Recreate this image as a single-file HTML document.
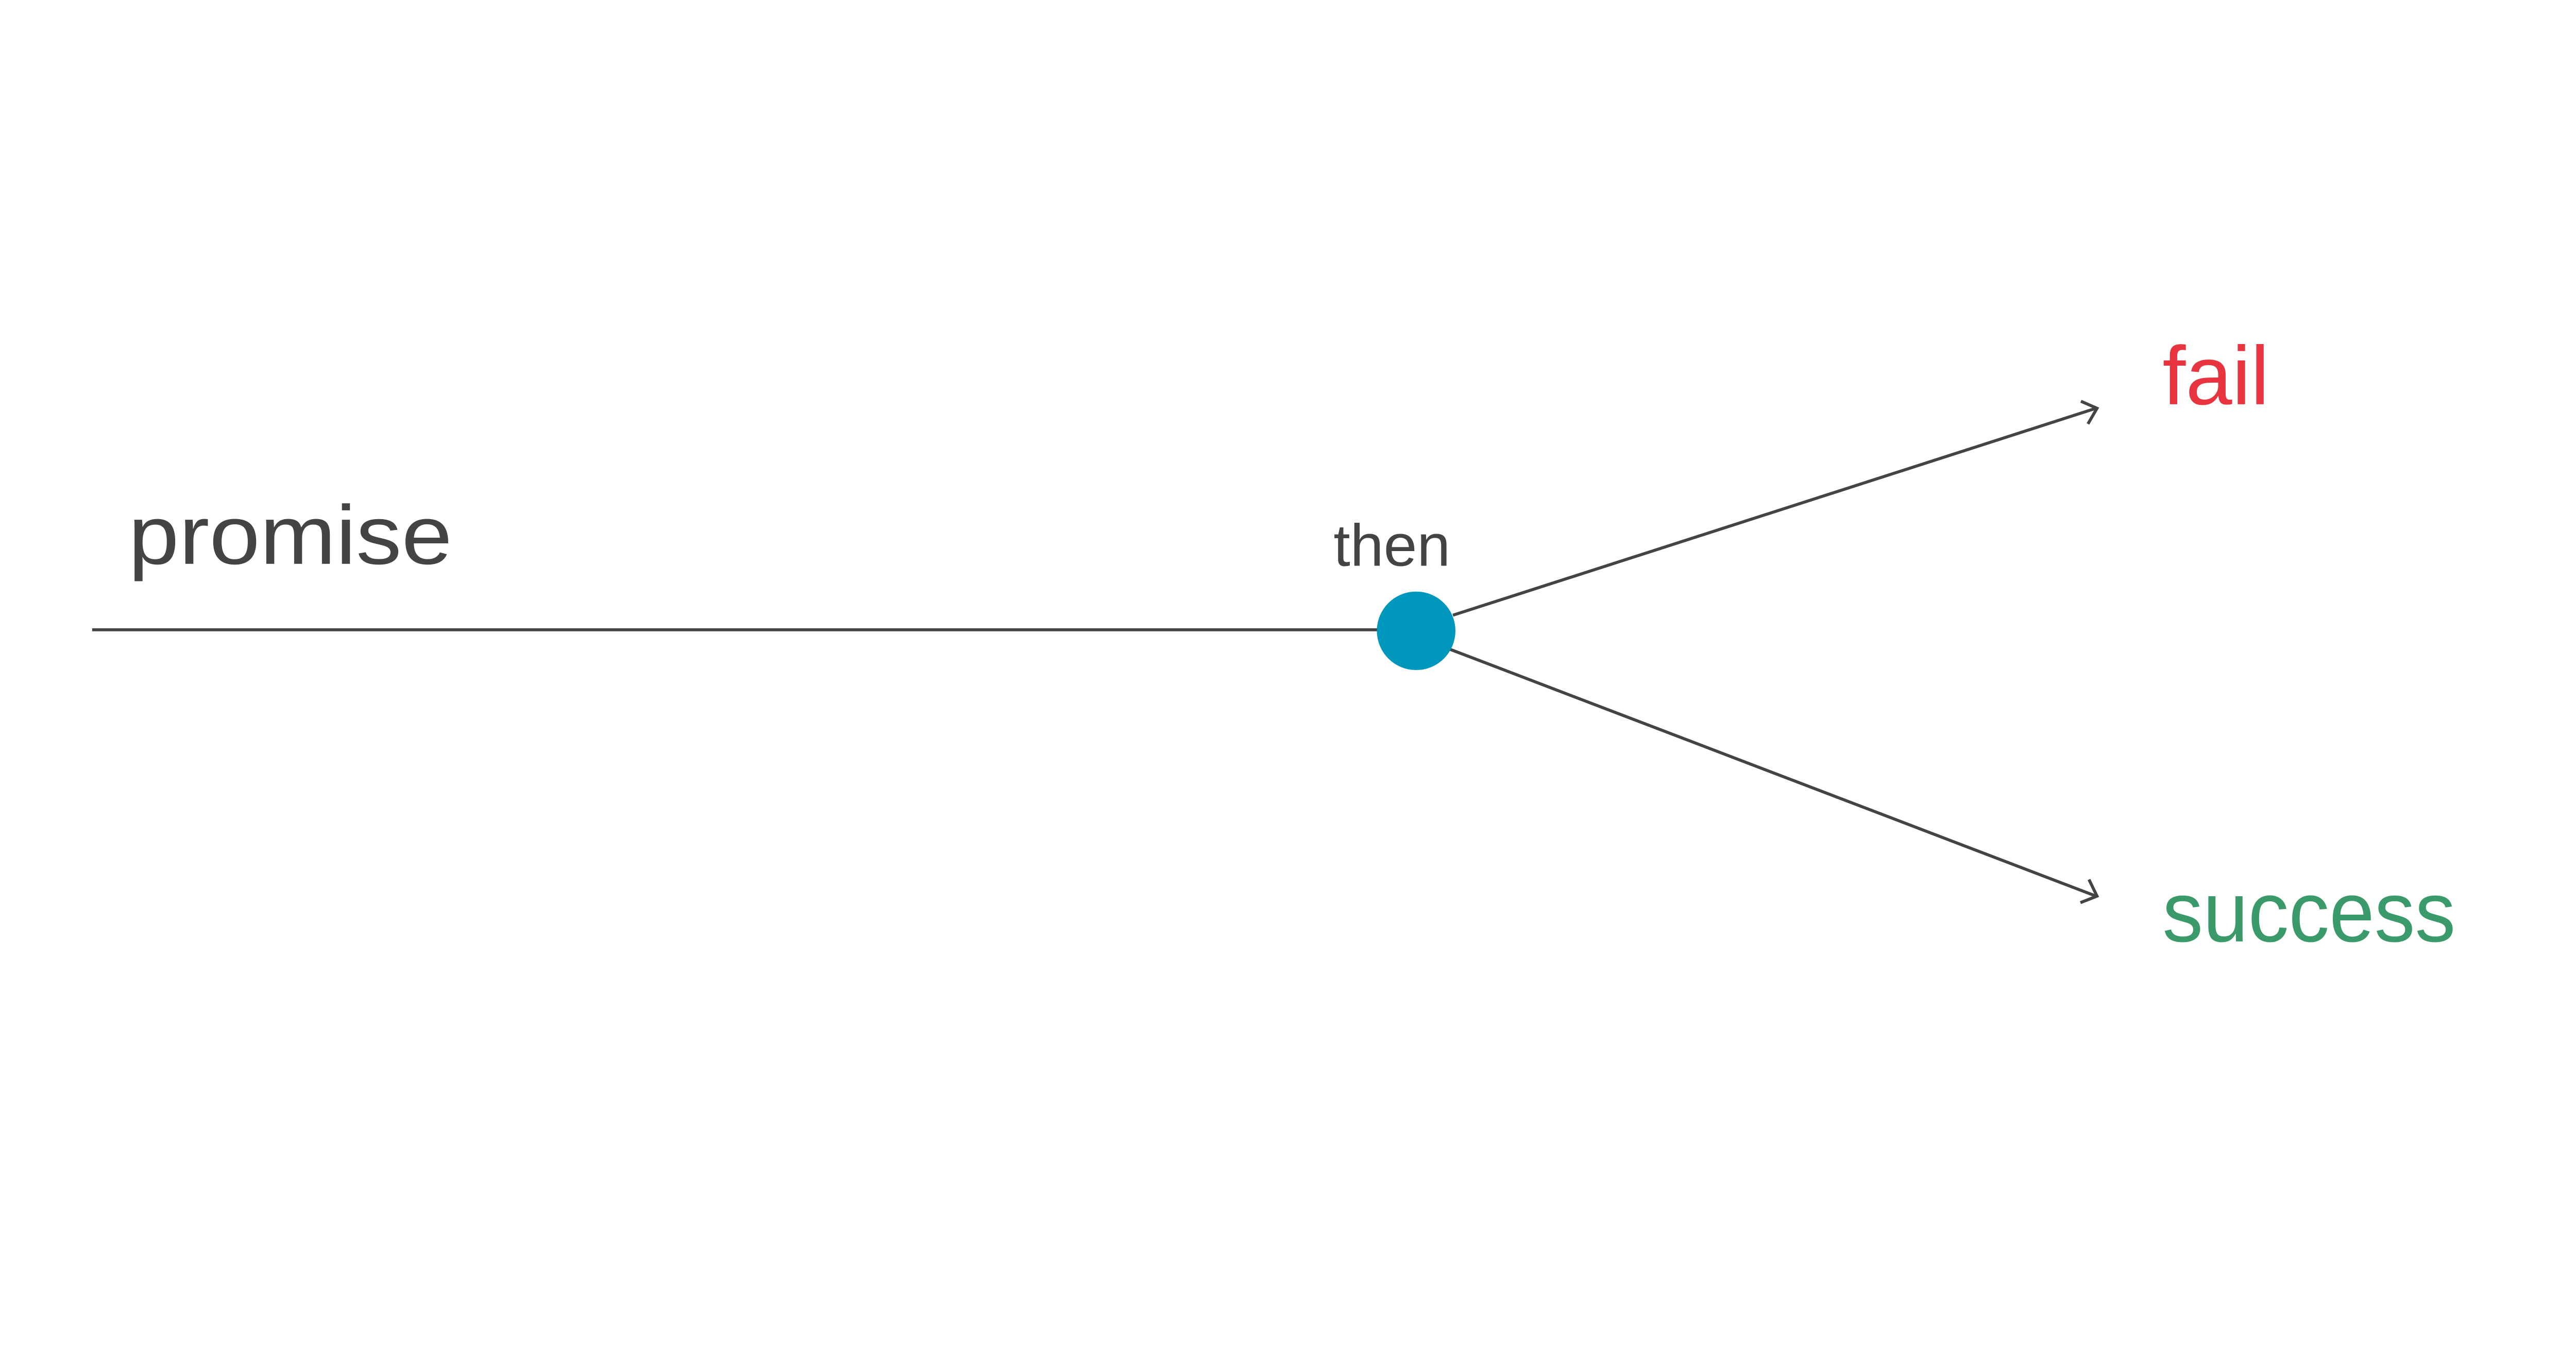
<!DOCTYPE html>
<html><head><meta charset="utf-8"><style>html,body{margin:0;padding:0;background:#fff}svg{display:block}</style></head>
<body>
<svg width="5095" height="2662" viewBox="0 0 5095 2662">
<g font-family="Liberation Sans, sans-serif" font-weight="normal" transform="scale(0.9775)">
<line x1="183" y1="1251" x2="2737" y2="1251" stroke="#444" stroke-width="6"/>
<line x1="2885" y1="1222" x2="4162" y2="811" stroke="#444" stroke-width="6"/>
<polyline points="4132,797 4164,811 4146,842" fill="none" stroke="#444" stroke-width="6"/>
<line x1="2880" y1="1290" x2="4162" y2="1780" stroke="#444" stroke-width="6"/>
<polyline points="4148,1747 4164,1780 4131,1793" fill="none" stroke="#444" stroke-width="6"/>
<circle cx="2812" cy="1253" r="78" fill="#0097bd"/>
<text x="255" y="1120" font-size="166" fill="#444" textLength="643" lengthAdjust="spacingAndGlyphs">promise</text>
<text x="2648" y="1124" font-size="118" fill="#444" textLength="232" lengthAdjust="spacingAndGlyphs">then</text>
<text x="4294" y="803" font-size="165" fill="#e8343f" textLength="212" lengthAdjust="spacingAndGlyphs">fail</text>
<text x="4294" y="1870" font-size="170" fill="#3a9a6a" textLength="582" lengthAdjust="spacingAndGlyphs">success</text>
</g>
</svg>
</body></html>
